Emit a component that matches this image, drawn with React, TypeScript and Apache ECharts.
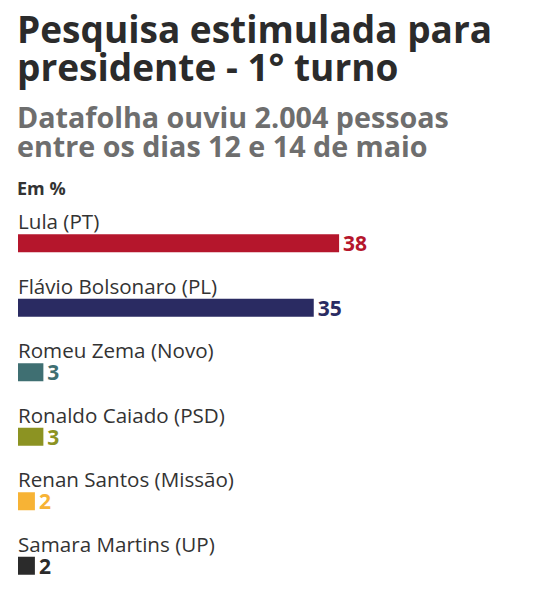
import React, { useEffect, useRef } from "react";
import * as echarts from "echarts";

const candidates = [
  "Lula (PT)",
  "Flávio Bolsonaro (PL)",
  "Romeu Zema (Novo)",
  "Ronaldo Caiado (PSD)",
  "Renan Santos (Missão)",
  "Samara Martins (UP)",
];
const values = [38, 35, 3, 3, 2, 2];
const barColors = ["#b5162c", "#2a2b62", "#3f6f72", "#8c9322", "#f7b335", "#2b2b2b"];

const titleText = "Pesquisa estimulada para\npresidente - 1° turno";
const subtitleText = "Datafolha ouviu 2.004 pessoas\nentre os dias 12 e 14 de maio";
const unitText = "Em %";

const FONT = "'Open Sans', sans-serif";

export default function App() {
  const ref = useRef<HTMLDivElement>(null);
  useEffect(() => {
    if (!ref.current) return;
    const chart = echarts.init(ref.current, undefined, { renderer: "svg" });
    chart.setOption({
      animation: false,
      backgroundColor: "#ffffff",
      title: [
        {
          text: titleText,
          left: 17,
          top: 9,
          padding: 0,
          textStyle: { fontFamily: FONT, fontSize: 37, fontWeight: "bold", color: "#2b2b2b", lineHeight: 38 },
        },
        {
          text: subtitleText,
          left: 17,
          top: 102,
          padding: 0,
          textStyle: { fontFamily: FONT, fontSize: 28.7, fontWeight: "bold", color: "#6e6e6e", lineHeight: 29 },
        },
        {
          text: unitText,
          left: 17,
          top: 178,
          padding: 0,
          textStyle: { fontFamily: FONT, fontSize: 18, fontWeight: "bold", color: "#333333", lineHeight: 20 },
        },
      ],
      grid: { left: 18, top: 211, width: 338, height: 398 },
      xAxis: { type: "value", min: 0, max: 40, show: false },
      yAxis: { type: "category", data: candidates, inverse: true, show: false },
      series: [
        {
          type: "bar",
          barWidth: 18,
          barGap: "-100%",
          silent: true,
          data: values.map((v, i) => ({
            value: v,
            itemStyle: { color: barColors[i] },
            label: { color: barColors[i] },
          })),
          label: {
            show: true,
            position: "right",
            distance: 4,
            fontFamily: FONT,
            fontSize: 21,
            lineHeight: 18,
            fontWeight: "bold",
          },
        },
        {
          type: "bar",
          barWidth: 18,
          barGap: "-100%",
          silent: true,
          itemStyle: { color: "transparent" },
          data: values,
          label: {
            show: true,
            position: [0, -24],
            align: "left",
            verticalAlign: "top",
            formatter: (p: any) => p.name,
            fontFamily: FONT,
            fontSize: 20.6,
            lineHeight: 22,
            color: "#333333",
          },
        },
      ],
    });
    return () => chart.dispose();
  }, []);
  return (
    <div
      ref={ref}
      style={{ position: "fixed", left: 0, top: 0, width: 545, height: 598 }}
    />
  );
}
